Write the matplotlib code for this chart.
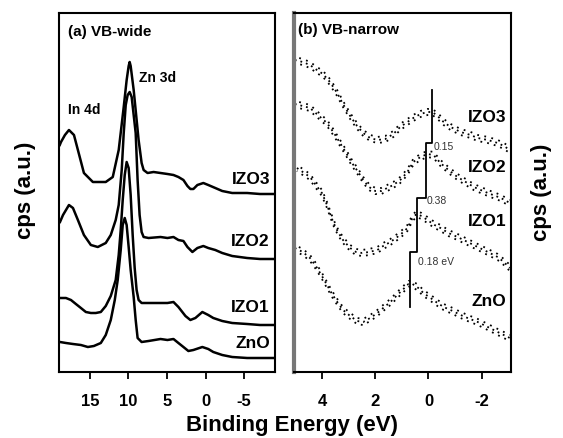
import matplotlib
matplotlib.use("Agg")
import matplotlib.pyplot as plt
from matplotlib.transforms import offset_copy

plt.rcParams['font.family'] = ['Liberation Sans', 'DejaVu Sans']
plt.rcParams['font.weight'] = 'bold'

# ---- (a) VB-wide : binding energy (eV) / counts (a.u., offset already in)
e_izo3 = [18.9, 18.74, 18.23, 17.71, 17.06, 16.55, 15.77, 14.61, 13.58, 12.94, 12.03,
          11.26, 10.61, 10.23, 9.97, 9.84, 9.71, 9.32, 8.68, 8.29, 8.03, 7.52, 6.74, 5.84,
          4.94, 4.16, 3.52, 2.87, 2.35, 1.97, 1.58, 1.06, 0.29, -0.35, -1.26, -2.16, -3.45,
          -4.48, -5.39, -7.06, -9.0]
i_izo3 = [227, 230, 237, 242, 237, 222, 199, 190, 190, 190, 195, 222, 265, 292, 306, 310,
          306, 282, 232, 209, 202, 199, 200, 199, 198, 197, 195, 192, 186, 183, 183, 187,
          189, 187, 184, 181, 179, 179, 179, 178, 178]

e_izo2 = [18.87, 18.48, 17.71, 17.19, 16.55, 15.77, 14.87, 13.97, 12.94, 12.29, 11.65,
          11.26, 10.87, 10.61, 10.35, 10.10, 9.84, 9.58, 9.32, 9.06, 8.81, 8.55, 8.29, 8.03,
          7.39, 5.84, 4.94, 4.16, 3.52, 2.87, 2.35, 1.71, 1.06, 0.29, -0.35, -1.26, -2.16,
          -3.45, -5.39, -7.06, -9.0]
i_izo2 = [150, 157, 167, 164, 152, 137, 127, 125, 129, 137, 152, 167, 202, 239, 267, 277,
          280, 275, 257, 239, 192, 157, 140, 135, 134, 135, 134, 135, 132, 131, 125, 120,
          124, 126, 124, 122, 119, 116, 114, 113, 113]

e_izo1 = [18.87, 18.10, 17.45, 16.81, 16.16, 15.52, 14.87, 14.23, 13.58, 12.94, 12.29,
          11.65, 11.26, 11.0, 10.74, 10.48, 10.23, 9.97, 9.71, 9.45, 9.19, 8.94, 8.68, 8.29,
          7.39, 5.84, 4.94, 4.16, 3.52, 2.61, 1.97, 1.32, 0.42, -0.35, -1.0, -2.16, -3.45,
          -5.39, -7.06, -9.0]
i_izo1 = [74, 74, 72, 68, 64, 60, 59, 59, 60, 66, 76, 92, 117, 142, 172, 197, 210, 204,
          177, 137, 104, 82, 72, 69, 69, 69, 69, 70, 65, 56, 52, 54, 60, 57, 54, 51, 49,
          48, 47, 47]

e_zno = [18.87, 18.10, 17.19, 16.16, 15.26, 14.48, 13.58, 12.94, 12.29, 11.77, 11.39,
         11.0, 10.74, 10.48, 10.23, 9.97, 9.71, 9.32, 9.06, 8.81, 8.29, 7.39, 5.84, 4.94,
         4.16, 3.52, 2.87, 2.23, 1.58, 0.42, -0.35, -1.0, -2.16, -3.45, -5.39, -7.06, -9.0]
i_zno = [30, 29, 28, 27, 25, 26, 29, 37, 52, 72, 92, 122, 147, 154, 147, 125, 102, 75,
         52, 34, 30, 31, 33, 32, 33, 29, 25, 21, 22, 25, 23, 20, 17, 15, 14, 14, 14]

wide_names = ['IZO3', 'IZO2', 'IZO1', 'ZnO']
wide_label_y = [192, 130, 65, 29]

# ---- (b) VB-narrow
n_e_izo3 = [5.02, 4.72, 4.45, 4.19, 3.96, 3.70, 3.43, 3.21, 2.94, 2.68, 2.45, 2.19, 1.92,
            1.62, 1.32, 1.06, 0.79, 0.57, 0.30, 0.04, -0.15, -0.34, -0.57, -0.83, -1.21,
            -1.58, -1.85, -2.23, -2.60, -2.83, -3.06]
n_i_izo3 = [312, 310, 307, 302, 298, 290, 279, 268, 256, 246, 239, 234, 232, 233, 238,
            245, 250, 254, 258, 260, 260, 256, 250, 245, 240, 237, 234, 232, 229, 226, 222]

n_e_izo2 = [5.02, 4.72, 4.45, 4.15, 3.81, 3.55, 3.32, 3.09, 2.87, 2.64, 2.45, 2.23, 2.0,
            1.77, 1.55, 1.32, 1.06, 0.79, 0.57, 0.30, 0.04, -0.19, -0.45, -0.75, -1.09,
            -1.40, -1.70, -2.23, -2.72, -3.06]
n_i_izo2 = [268, 266, 264, 257, 249, 239, 229, 219, 209, 200, 192, 185, 181, 181, 184,
            187, 192, 200, 210, 215, 218, 217, 209, 202, 195, 190, 185, 179, 174, 169]

n_e_izo1 = [4.94, 4.72, 4.45, 4.23, 4.0, 3.81, 3.58, 3.40, 3.21, 2.94, 2.72, 2.49, 2.23,
            1.92, 1.70, 1.43, 1.17, 0.94, 0.79, 0.60, 0.45, 0.26, 0.04, -0.23, -0.45, -0.75,
            -1.09, -1.47, -1.85, -2.23, -2.60, -2.83, -3.06]
n_i_izo1 = [204, 200, 195, 187, 179, 167, 150, 140, 132, 124, 120, 119, 120, 122, 126,
            130, 135, 140, 144, 154, 158, 156, 152, 147, 144, 139, 135, 130, 125, 120, 115,
            110, 104]

n_e_zno = [5.02, 4.72, 4.45, 4.23, 4.0, 3.81, 3.62, 3.40, 3.21, 2.94, 2.68, 2.45, 2.19,
           1.92, 1.70, 1.43, 1.17, 0.94, 0.75, 0.60, 0.38, 0.19, -0.08, -0.34, -0.57, -0.91,
           -1.21, -1.47, -1.85, -2.23, -2.60, -2.83, -3.06]
n_i_zno = [124, 120, 114, 106, 96, 87, 78, 69, 62, 56, 51, 50, 54, 59, 64, 70, 77, 83,
           88, 88, 84, 79, 74, 69, 65, 61, 57, 54, 50, 45, 40, 37, 34]

narrow_label_y = [254, 205, 150, 70]

# valence band maxima (eV) and the step levels between curves
vbm = [0.68, 0.42, 0.11, -0.15]
vbm_levels = [65, 120, 174, 229, 282]
shift_text = ['0.18 eV', '0.38', '0.15']
shift_text_y = [110, 171, 225]

fig = plt.figure(figsize=(5.63, 4.38), dpi=100)
ax1 = fig.add_axes([59 / 563, 66 / 438, 216 / 563, 359 / 438])
ax2 = fig.add_axes([294 / 563, 66 / 438, 217 / 563, 359 / 438])

for e, i in [(e_izo3, i_izo3), (e_izo2, i_izo2), (e_izo1, i_izo1), (e_zno, i_zno)]:
    ax1.plot(e, i, color='black', lw=1.8)
for name, y in zip(wide_names, wide_label_y):
    ax1.text(-8.35, y, name, ha='right', va='center', fontsize=12.5)
ax1.text(17.84, 340, '(a) VB-wide', ha='left', va='center', fontsize=11)
ax1.text(17.84, 262, 'In 4d', ha='left', va='center', fontsize=10)
ax1.text(8.68, 294, 'Zn 3d', ha='left', va='center', fontsize=10)
ax1.set_xlim(19, -9)
ax1.set_ylim(0, 359)
ax1.set_xticks([15, 10, 5, 0, -5])
ax1.set_xticklabels(['15', '10', '5', '0', '-5'])

narrow = [(n_e_izo3, n_i_izo3), (n_e_izo2, n_i_izo2), (n_e_izo1, n_i_izo1), (n_e_zno, n_i_zno)]
for e, i in narrow:
    for dy, dash in [(0, (0, (1, 2.2))), (2.2, (1.5, (1, 3))), (-2.2, (0.7, (1, 2.8)))]:
        tr = offset_copy(ax2.transData, fig=fig, x=0, y=dy, units='points')
        ax2.plot(e, i, color='black', lw=1.3, linestyle=dash, transform=tr)
for name, y in zip(wide_names, narrow_label_y):
    ax2.text(-2.92, y, name, ha='right', va='center', fontsize=12.5)
ax2.text(4.91, 342, '(b) VB-narrow', ha='left', va='center', fontsize=11)

step_x, step_y = [], []
for k, v in enumerate(vbm):
    step_x += [v, v]
    step_y += [vbm_levels[k], vbm_levels[k + 1]]
ax2.plot(step_x, step_y, color='black', lw=1.3)
for k, (t, y) in enumerate(zip(shift_text, shift_text_y)):
    ax2.text(vbm[k + 1] - 0.03, y, t, ha='left', va='center', fontsize=7.5,
             fontweight='normal', color='#333333')

ax2.set_xlim(5.05, -3.1)
ax2.set_ylim(0, 359)
ax2.set_xticks([4, 2, 0, -2])
ax2.set_xticklabels(['4', '2', '0', '-2'])
ax2.spines['left'].set_color('#777777')
ax2.spines['left'].set_linewidth(3)

for ax in (ax1, ax2):
    ax.set_yticks([])
    ax.tick_params(axis='x', direction='out', length=5, width=1.3, pad=11, labelsize=12)
    for s in ['top', 'bottom', 'right']:
        ax.spines[s].set_linewidth(1.5)
ax1.spines['left'].set_linewidth(1.5)

fig.text(291.5 / 563, 7 / 438, 'Binding Energy (eV)', ha='center', va='baseline', fontsize=16)
fig.text(25 / 563, 1 - 190 / 438, 'cps (a.u.)', rotation=90, ha='center', va='center', fontsize=16)
fig.text(541 / 563, 1 - 192 / 438, 'cps (a.u.)', rotation=90, ha='center', va='center', fontsize=16)

fig.savefig('out.png', dpi=100)
